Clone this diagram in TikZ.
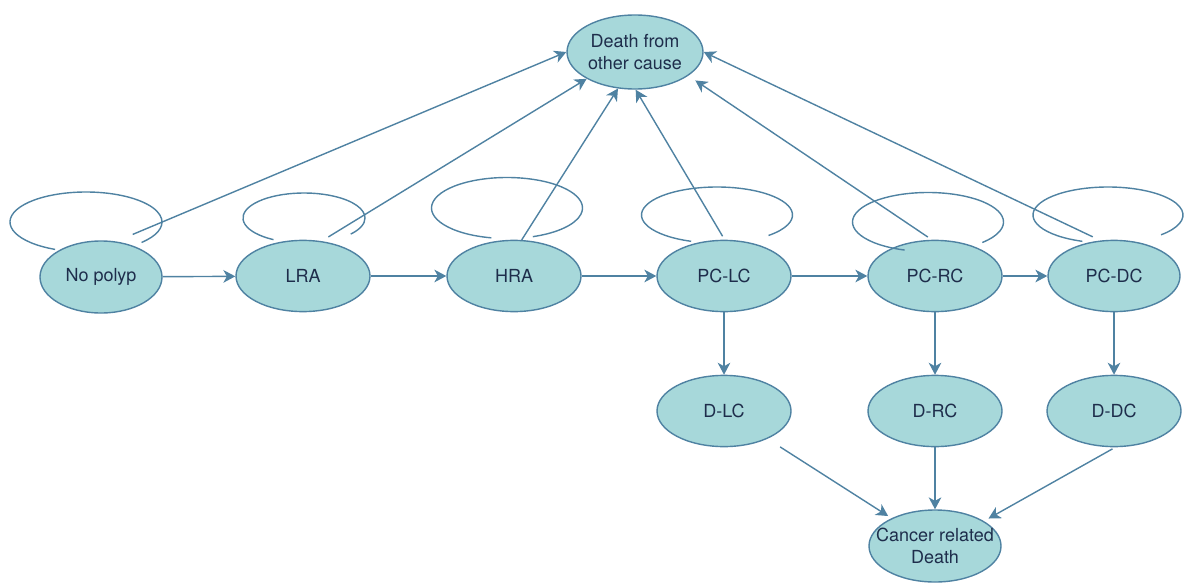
\documentclass[tikz,border=0pt]{standalone}
\usepackage{fontspec}
\setmainfont{TeX Gyre Heros}
\usepackage{tikz}
\usetikzlibrary{arrows.meta,shapes.geometric}
\definecolor{nodecol}{HTML}{A7D8DA}
\definecolor{edgecol}{HTML}{4F82A2}
\definecolor{txtcol}{HTML}{1E2D4B}
\tikzstyle{st}=[draw=edgecol,fill=nodecol,ellipse,line width=1pt,minimum width=3.35cm,minimum height=1.78cm,inner xsep=-1em,inner ysep=0pt,align=center,text=txtcol,font=\fontsize{12.8}{15.6}\selectfont]
\tikzstyle{e}=[draw=edgecol,line width=1pt,-{Stealth[length=8.5pt,width=9pt,inset=2.5pt]}]
\tikzstyle{lp}=[draw=edgecol,line width=1pt]

\begin{document}
\begin{tikzpicture}

                        \useasboundingbox (0,0) rectangle (29.6,14.65);

                        \node[st,minimum width=3.05cm,minimum height=1.8cm] (np) at (2.525, 7.725) {No polyp};
                        \node[st] (lra) at (7.575, 7.75) {LRA};
                        \node[st] (hra) at (12.85, 7.75) {HRA};
                        \node[st] (pclc) at (18.1, 7.75) {PC-LC};
                        \node[st] (pcrc) at (23.375, 7.75) {PC-RC};
                        \node[st,minimum width=3.3cm] (pcdc) at (27.85, 7.75) {PC-DC};

                        \node[st,minimum width=3.4cm,minimum height=1.85cm] (doc) at (15.875, 13.35) {Death from\\other cause};

                        \node[st] (dlc) at (18.1, 4.375) {D-LC};
                        \node[st] (drc) at (23.375, 4.375) {D-RC};
                        \node[st] (ddc) at (27.85, 4.375) {D-DC};

                        \node[st,minimum width=3.3cm,minimum height=1.8cm] (crd) at (23.375, 1.0) {Cancer related\\Death};

                        \path[every edge/.style={e}]
                        (np) edge (lra)
                        (lra) edge (hra)
                        (hra) edge (pclc)
                        (pclc) edge (pcrc)
                        (pcrc) edge (pcdc)

                        (np.67) edge[shorten <=0.45cm] (doc.180)
                        (lra.62) edge[shorten <=0.2cm] (doc.209)
                        (hra.78) edge (doc.245)
                        (pclc.89) edge[shorten <=0.1cm] (doc.271)
                        (pcrc.95) edge[shorten <=0.12cm,shorten >=0.21cm] (doc.336)
                        (pcdc.111) edge[shorten <=0.21cm] (doc.0)

                        (pclc) edge (dlc)
                        (pcrc) edge (drc)
                        (pcdc) edge (ddc)

                        (dlc) edge[shorten <=0.375cm,shorten >=0.1cm] (crd)
                        (drc) edge (crd)
                        (ddc.272) edge[shorten <=0.08cm,shorten >=0.13cm] (crd.27)
                        ;

                        % self loops
                        \coordinate (npl) at (2.15, 9.1);
                        \coordinate (lral) at (7.6, 9.2);
                        \coordinate (hral) at (12.675, 9.45);
                        \coordinate (pclcl) at (17.925, 9.275);
                        \coordinate (pcrcl) at (23.2, 9.1);
                        \coordinate (pcdcl) at (27.7, 9.275);

                        \draw[lp] ([shift={(246:1.9cm and 0.75cm)}]npl) arc[start angle=246,end angle=-43,x radius=1.9cm,y radius=0.75cm];
                        \draw[lp] ([shift={(240:1.525cm and 0.625cm)}]lral) arc[start angle=240,end angle=-40,x radius=1.525cm,y radius=0.625cm];
                        \draw[lp] ([shift={(258:1.8875cm and 0.7625cm)}]hral) arc[start angle=258,end angle=-70,x radius=1.8875cm,y radius=0.7625cm];
                        \draw[lp] ([shift={(250:1.8875cm and 0.7cm)}]pclcl) arc[start angle=250,end angle=-47,x radius=1.8875cm,y radius=0.7cm];
                        \draw[lp] ([shift={(252:1.8875cm and 0.7375cm)}]pcrcl) arc[start angle=252,end angle=-44,x radius=1.8875cm,y radius=0.7375cm];
                        \draw[lp] ([shift={(250:1.875cm and 0.7cm)}]pcdcl) arc[start angle=250,end angle=-45,x radius=1.875cm,y radius=0.7cm];

\end{tikzpicture}
\end{document}
